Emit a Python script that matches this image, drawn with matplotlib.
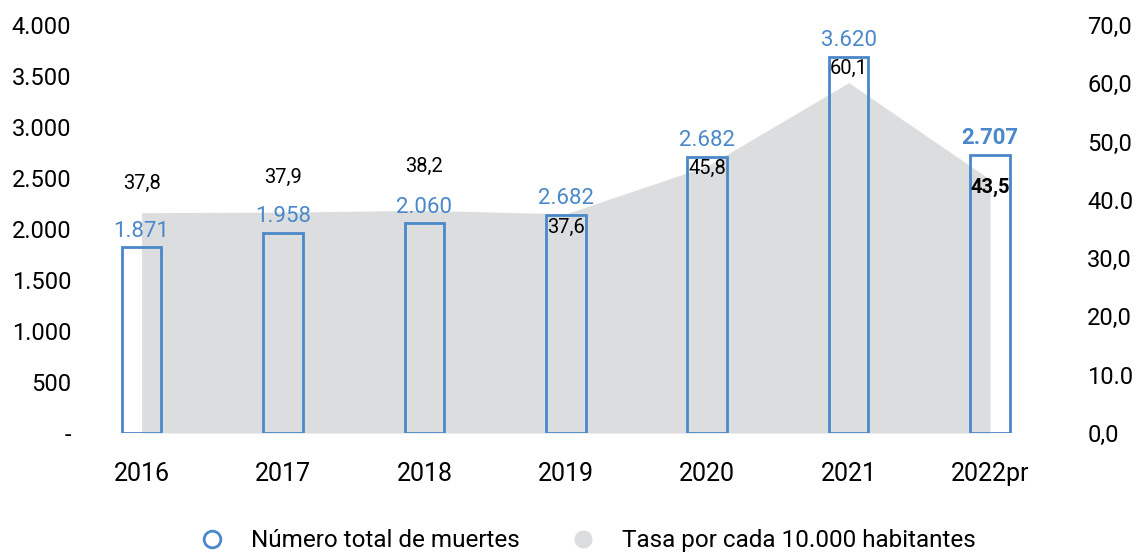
import matplotlib
matplotlib.use("Agg")
import matplotlib.pyplot as plt
from matplotlib.lines import Line2D
import numpy as np

plt.rcParams['font.family'] = ['Roboto', 'DejaVu Sans']

years = ['2016', '2017', '2018', '2019', '2020', '2021', '2022pr']
muertes = [1820, 1965, 2055, 2140, 2710, 3690, 2730]          # bar heights as drawn
muertes_lbl = ['1.871', '1.958', '2.060', '2.682', '2.682', '3.620', '2.707']
tasa = [37.8, 37.9, 38.2, 37.6, 45.8, 60.1, 43.5]
tasa_lbl = ['37,8', '37,9', '38,2', '37,6', '45,8', '60,1', '43,5']

left_ticks = [0, 500, 1000, 1500, 2000, 2500, 3000, 3500, 4000]
left_lbls = ['-', '500', '1.000', '1.500', '2.000', '2.500', '3.000', '3.500', '4.000']
right_ticks = [0, 10, 20, 30, 40, 50, 60, 70]
right_lbls = ['0,0', '10.0', '20,0', '30,0', '40.0', '50,0', '60,0', '70,0']

blue = '#4a88c9'
gray = '#dcdddf'

fig = plt.figure(figsize=(11.39, 5.53), dpi=100)
ax = fig.add_axes([85 / 1139, 1 - 433 / 553, 980 / 1139, 408 / 553])
ax2 = ax.twinx()

x = np.arange(len(years))

# area on the rate axis, drawn behind the bars
ax2.fill_between(x, tasa, color=gray, lw=0, zorder=1)
ax2.set_ylim(0, 70)
ax.set_ylim(0, 4000)
ax.set_zorder(ax2.get_zorder() + 1)
ax.patch.set_visible(False)

ax.bar(x, muertes, width=0.28, facecolor='none', edgecolor=blue, linewidth=2, zorder=3)
ax.set_xlim(-0.4, 6.53)

for i, (v, s) in enumerate(zip(muertes, muertes_lbl)):
    ax.annotate(s, (i, v), xytext=(0, 4), textcoords='offset points',
                ha='center', va='bottom', color=blue, fontsize=16,
                fontweight='bold' if i == 6 else 'normal')

# rate labels: first three above the area, the rest under the bar top
above = [14, 18, 25]
inside = [-2, -2, -2, -2, -2, -2, -17]
for i, s in enumerate(tasa_lbl):
    if i < 3:
        ax2.annotate(s, (i, tasa[i]), xytext=(0, above[i]), textcoords='offset points',
                     ha='center', va='bottom', fontsize=14.5, color='black')
    else:
        ax.annotate(s, (i, muertes[i]), xytext=(0, inside[i]), textcoords='offset points',
                    ha='center', va='top', fontsize=14.5, color='black',
                    fontweight='bold' if i == 6 else 'normal', zorder=5)

ax.set_xticks(x)
ax.set_xticklabels(years, fontsize=18)
ax.set_yticks(left_ticks)
ax.set_yticklabels(left_lbls, fontsize=17)
ax2.set_yticks(right_ticks)
ax2.set_yticklabels(right_lbls, fontsize=17)

ax.tick_params(axis='x', length=0, pad=21)
ax.tick_params(axis='y', length=0, pad=10)
ax2.tick_params(axis='y', length=0, pad=16)
for a in (ax, ax2):
    for sp in a.spines.values():
        sp.set_visible(False)

handles = [
    Line2D([], [], marker='o', ls='none', markersize=12, markerfacecolor='white',
           markeredgecolor=blue, markeredgewidth=2),
    Line2D([], [], marker='o', ls='none', markersize=12, markerfacecolor=gray,
           markeredgecolor=gray),
]
fig.legend(handles, ['Número total de muertes', 'Tasa por cada 10.000 habitantes'],
           loc='center', bbox_to_anchor=(0.511, 0.022), ncol=2, frameon=False,
           fontsize=17.5, handletextpad=0.6, columnspacing=1.6)

fig.savefig('out.png', dpi=100)
